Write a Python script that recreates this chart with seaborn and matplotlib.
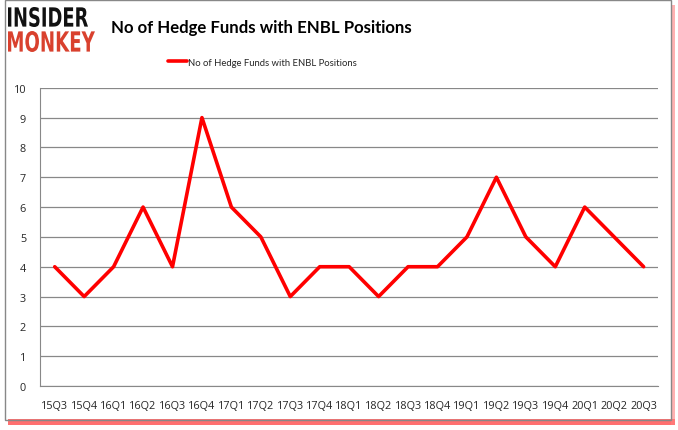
import matplotlib
matplotlib.use('Agg')
import matplotlib.pyplot as plt
import seaborn as sns
import pandas as pd
import numpy as np
from matplotlib.patches import Rectangle, PathPatch
from matplotlib.textpath import TextPath
from matplotlib.font_manager import FontProperties
from matplotlib.transforms import Affine2D, IdentityTransform

# ============================================================================
# DATA
# ============================================================================
quarters = ['15Q3', '15Q4', '16Q1', '16Q2', '16Q3', '16Q4', '17Q1', '17Q2',
            '17Q3', '17Q4', '18Q1', '18Q2', '18Q3', '18Q4', '19Q1', '19Q2',
            '19Q3', '19Q4', '20Q1', '20Q2', '20Q3']
n_funds = [4, 3, 4, 6, 4, 9, 6, 5, 3, 4, 4, 3, 4, 4, 5, 7, 5, 4, 6, 5, 4]
series_name = 'No of Hedge Funds with ENBL Positions'

df = pd.DataFrame({'quarter': quarters, 'funds': n_funds})
df['pos'] = np.arange(len(quarters))

sns.set_style('white')
plt.rcParams['font.family'] = ['Open Sans', 'DejaVu Sans']

fig = plt.figure(figsize=(6.78, 4.31), dpi=100)
ax = fig.add_axes([0.059, 0.102, 0.912, 0.692])

sns.lineplot(data=df, x='pos', y='funds', color='#ff0000', linewidth=2.6,
             ax=ax, label=series_name, legend=False)

ax.set_xlim(-0.5, len(quarters) - 0.5)
ax.set_ylim(0, 10)
ax.set_yticks(range(0, 11))
ax.set_xticks(df['pos'])
ax.set_xticklabels(quarters, fontsize=7.8)
ax.tick_params(axis='y', labelsize=7.8, length=4, color='#888888', pad=6)
ax.tick_params(axis='x', length=0, pad=10)
# minor ticks at category boundaries
ax.set_xticks(np.arange(-0.5, len(quarters), 1), minor=True)
ax.tick_params(axis='x', which='minor', length=4, color='#888888')
ax.grid(axis='y', color='#888888', linewidth=0.9)
ax.set_axisbelow(True)
for s in ['top', 'right']:
    ax.spines[s].set_visible(False)
for s in ['left', 'bottom']:
    ax.spines[s].set_color('#888888')
ax.set_xlabel('')
ax.set_ylabel('')

# title
fig.text(0.385, 0.935, series_name, ha='center', va='center', fontsize=12.1,
         fontweight='bold', color='black', family=['Lato', 'DejaVu Sans'])

# legend
ax.legend(loc='upper center', bbox_to_anchor=(0.36, 1.13), frameon=False,
          handlelength=2.0, handletextpad=0.1,
          prop={'family': ['Lato', 'DejaVu Sans'], 'size': 6.8})


# logo, squeezed into the box it fills in the reference (pixel coords)
def logo_word(word, color, x0, x1, y0, y1):
    tp = TextPath((0, 0), word, size=20,
                  prop=FontProperties(family='DejaVu Sans', weight='bold'))
    ext = tp.get_extents()
    sx = (x1 - x0) / ext.width
    sy = (y1 - y0) / ext.height
    tr = Affine2D().translate(-ext.x0, -ext.y0).scale(sx, sy).translate(x0, y0)
    fig.patches.append(PathPatch(tr.transform_path(tp), transform=IdentityTransform(),
                                 facecolor=color, edgecolor='none'))


logo_word('INSIDER', '#111111', 8, 88, 403, 423)
logo_word('MONKEY', '#d9412e', 8, 95, 378, 399)

# frame with red drop shadow
W, H = 678.0, 431.0
fig.patches.append(Rectangle((8 / W, 5 / H), 667 / W, 6 / H, transform=fig.transFigure,
                             color='#ff4040', alpha=0.75, linewidth=0))
fig.patches.append(Rectangle((671 / W, 5 / H), 4 / W, 420 / H, transform=fig.transFigure,
                             color='#ff8080', alpha=0.6, linewidth=0))
fig.patches.append(Rectangle((5 / W, 10 / H), 666 / W, 420 / H, transform=fig.transFigure,
                             facecolor='none', edgecolor='#888888', linewidth=1))

fig.savefig('out.png', dpi=100)
